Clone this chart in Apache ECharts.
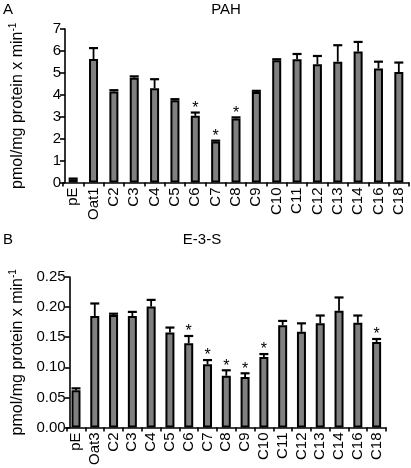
<!DOCTYPE html>
<html>
<head>
<meta charset="utf-8">
<script src="https://cdn.jsdelivr.net/npm/echarts@6/dist/echarts.min.js"></script>
<style>
html,body{margin:0;padding:0;background:#fff;}
#chart{width:411px;height:468px;}
</style>
</head>
<body>
<div id="chart"></div>
<script>
// Panel A: PAH
const catsA = ['pE','Oat1','C2','C3','C4','C5','C6','C7','C8','C9','C10','C11','C12','C13','C14','C16','C18'];
const valsA = [0.15, 5.63, 4.15, 4.78, 4.3, 3.75, 3.04, 1.87, 2.92, 4.13, 5.58, 5.62, 5.39, 5.51, 5.97, 5.2, 5.04];
const errA  = [0.03, 0.5, 0.06, 0.06, 0.41, 0.05, 0.15, 0.04, 0.05, 0.05, 0.04, 0.24, 0.38, 0.75, 0.44, 0.31, 0.43];
const sigA  = [0,0,0,0,0,0,1,1,1,0,0,0,0,0,0,0,0];
const ticksA = [0,1,2,3,4,5,6,7];

// Panel B: E-3-S
const catsB = ['pE','Oat3','C2','C3','C4','C5','C6','C7','C8','C9','C10','C11','C12','C13','C14','C16','C18'];
const valsB = [0.062, 0.185, 0.187, 0.185, 0.201, 0.158, 0.140, 0.105, 0.086, 0.084, 0.117, 0.170, 0.159, 0.173, 0.194, 0.174, 0.142];
const errB  = [0.003, 0.021, 0.002, 0.007, 0.011, 0.008, 0.012, 0.007, 0.009, 0.006, 0.005, 0.007, 0.014, 0.013, 0.022, 0.012, 0.005];
const sigB  = [0,0,0,0,0,0,1,1,1,1,1,0,0,0,0,0,1];
const ticksB = ['0.00','0.05','0.10','0.15','0.20','0.25'];

const FONT = 'Liberation Sans, Arial, sans-serif';
const chart = echarts.init(document.getElementById('chart'));

function errRender(params, api) {
  const x = api.value(0), v = api.value(1), e = api.value(2), s = api.value(3);
  const p0 = api.coord([x, v]);
  const p1 = api.coord([x, v + e]);
  const children = [
    {type:'line', shape:{x1:p0[0], y1:p0[1], x2:p1[0], y2:p1[1]}, style:{stroke:'#000', lineWidth:1.8}},
    {type:'line', shape:{x1:p1[0]-4.5, y1:p1[1], x2:p1[0]+4.5, y2:p1[1]}, style:{stroke:'#000', lineWidth:2.2}}
  ];
  if (s) {
    children.push({type:'text', x:p1[0], y:p1[1]+4, style:{text:'*', fill:'#000', font:'16px ' + FONT, align:'center', verticalAlign:'bottom'}});
  }
  return {type:'group', children};
}

function axisCommonX(cats) {
  return {
    type:'category', data:cats, boundaryGap:true,
    axisLine:{lineStyle:{color:'#000', width:1.6}},
    axisTick:{show:true, length:4, lineStyle:{color:'#000', width:1.6}, interval:0},
    axisLabel:{rotate:90, interval:0, color:'#000', fontSize:15, fontFamily:FONT, margin:5}
  };
}
const yName = '{a|pmol/mg protein x min}{s|-1}';
const yRich = {a:{fontSize:16, fontFamily:FONT, color:'#000'}, s:{fontSize:10, fontFamily:FONT, color:'#000', verticalAlign:'top', padding:[0,0,9,0]}};

const option = {
  animation:false,
  backgroundColor:'#fff',
  grid:[
    {left:55, right:2, top:29, bottom:285.5, containLabel:false},
    {left:55, right:25, top:277, bottom:40, containLabel:false}
  ],
  xAxis:[
    Object.assign(axisCommonX(catsA), {gridIndex:0}),
    Object.assign(axisCommonX(catsB), {gridIndex:1})
  ],
  yAxis:[
    {type:'value', gridIndex:0, min:ticksA[0], max:ticksA[ticksA.length-1], interval:1, offset:-2,
     axisLine:{show:true, lineStyle:{color:'#000', width:1.6}},
     axisTick:{show:true, length:5, lineStyle:{color:'#000', width:1.6}},
     splitLine:{show:false},
     axisLabel:{color:'#000', fontSize:15, fontFamily:FONT, margin:4},
     name:yName, nameLocation:'middle', nameGap:38, nameRotate:90,
     nameTextStyle:{rich:yRich}},
    {type:'value', gridIndex:1, min:0, max:0.25, interval:0.05, offset:-3,
     axisLine:{show:true, lineStyle:{color:'#000', width:1.6}},
     axisTick:{show:true, length:5, lineStyle:{color:'#000', width:1.6}},
     splitLine:{show:false},
     axisLabel:{color:'#000', fontSize:15, fontFamily:FONT, margin:4, formatter:(v)=>v.toFixed(2)},
     name:yName, nameLocation:'middle', nameGap:42, nameRotate:90,
     nameTextStyle:{rich:yRich}}
  ],
  series:[
    {type:'bar', xAxisIndex:0, yAxisIndex:0, data:valsA, barWidth:9,
     itemStyle:{color:'#808080', borderColor:'#000', borderWidth:2}},
    {type:'custom', xAxisIndex:0, yAxisIndex:0, renderItem:errRender, encode:{x:0, y:1},
     data:valsA.map((v,i)=>[i, v, errA[i], sigA[i]]), z:5},
    {type:'bar', xAxisIndex:1, yAxisIndex:1, data:valsB, barWidth:9,
     itemStyle:{color:'#808080', borderColor:'#000', borderWidth:2}},
    {type:'custom', xAxisIndex:1, yAxisIndex:1, renderItem:errRender, encode:{x:0, y:1},
     data:valsB.map((v,i)=>[i, v, errB[i], sigB[i]]), z:5}
  ],
  graphic:[
    {type:'text', left:3, top:2, style:{text:'A', font:'15px ' + FONT, fill:'#000'}},
    {type:'text', x:226, y:10, style:{text:'PAH', font:'15px ' + FONT, fill:'#000', align:'center', verticalAlign:'middle'}},
    {type:'text', left:3, top:232, style:{text:'B', font:'15px ' + FONT, fill:'#000'}},
    {type:'text', x:202, y:240, style:{text:'E-3-S', font:'15px ' + FONT, fill:'#000', align:'center', verticalAlign:'middle'}}
  ]
};
chart.setOption(option);
</script>
</body>
</html>
